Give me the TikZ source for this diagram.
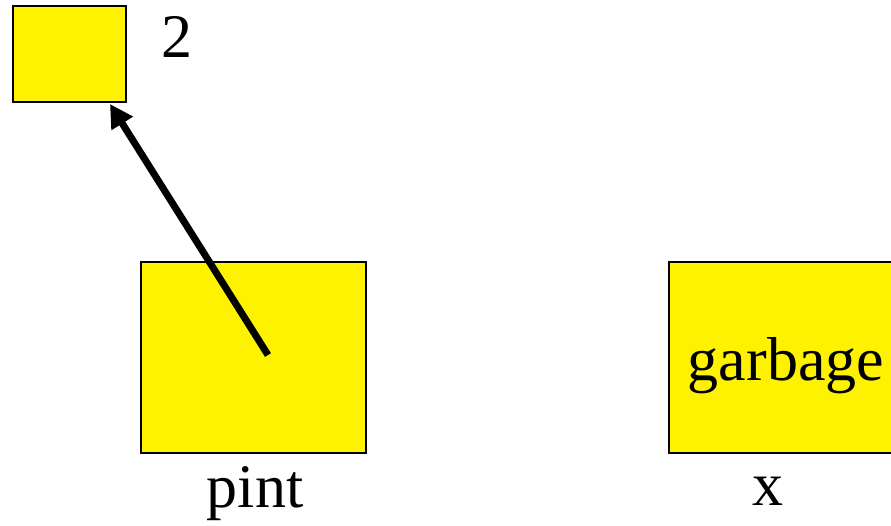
\documentclass[tikz,border=0pt]{standalone}
\usepackage{fontspec}
\setmainfont{Liberation Serif}
\usetikzlibrary{arrows.meta}
\begin{document}
\begin{tikzpicture}[x=1pt,y=-1pt,
  cell/.style={draw=black,line width=2pt,fill=yellow,inner sep=0pt,outer sep=0pt,rectangle},
  lbl/.style={font=\fontsize{62}{70}\selectfont,inner sep=0pt,anchor=base},
  ptr/.style={line width=7pt,-{Triangle[length=23pt,width=24pt]}}]
\useasboundingbox (0,0) rectangle (891,526);
\node[cell,minimum width=113pt,minimum height=96pt] (v) at (69.5,54) {};
\node[lbl] (two) at (176.5,58) {2};
\node[cell,minimum width=225pt,minimum height=191pt] (pint) at (253.5,357.5) {};
\node[lbl] (pintl) at (255,507) {pint};
\node[cell,minimum width=225pt,minimum height=191pt] (xbox) at (781.5,357.5) {};
\node[lbl] (garb) at (786,380) {garbage};
\node[lbl] (xl) at (768,505) {x};
\coordinate (src) at (268,355);
\coordinate (tip) at (110,104);
\draw[ptr] (src) -- (tip);
\end{tikzpicture}
\end{document}
